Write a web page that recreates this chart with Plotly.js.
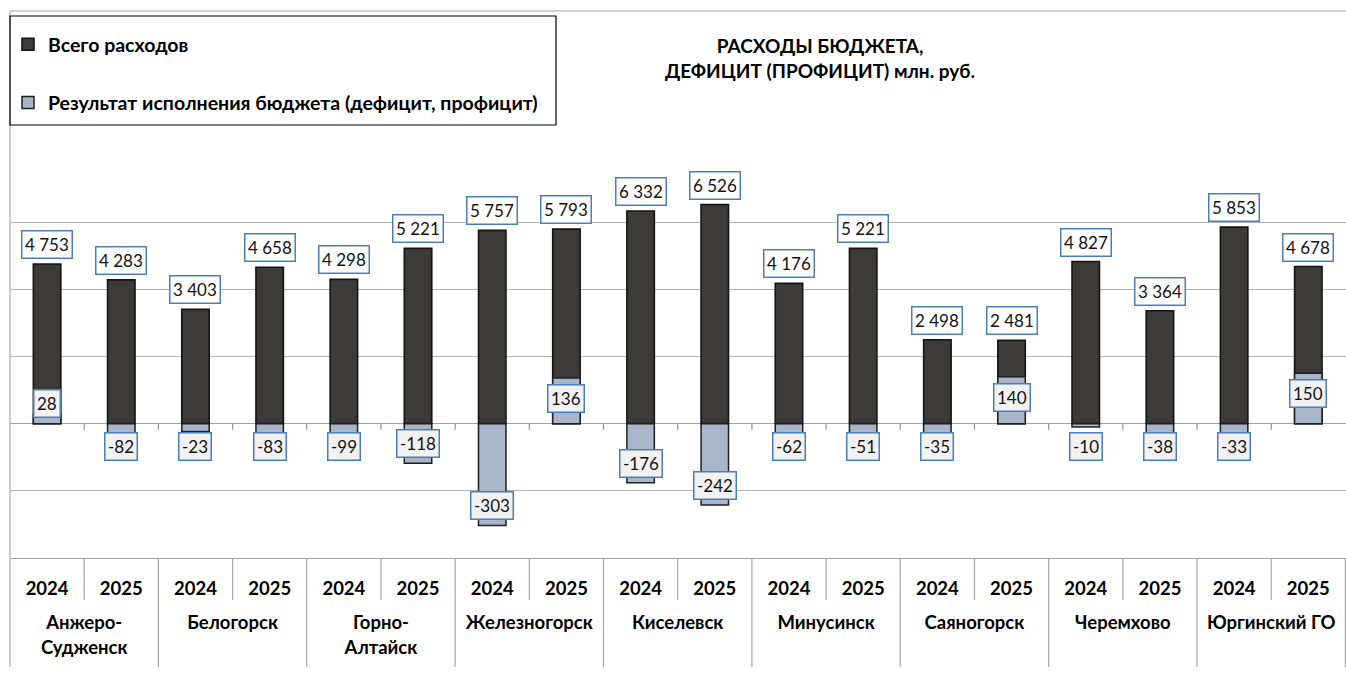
<!DOCTYPE html>
<html>
<head>
<meta charset="utf-8">
<script src="https://cdn.plot.ly/plotly-3.0.1.min.js"></script>
<style>html,body{margin:0;padding:0;background:#fff;}#chart{width:1346px;height:675px;}</style>
</head>
<body>
<div id="chart"></div>
<script>
const cities = ['Анжеро-<br>Судженск','Белогорск','Горно-<br>Алтайск','Железногорск','Киселевск','Минусинск','Саяногорск','Черемхово','Юргинский ГО'];
const years = ['2024','2025'];
const expenses = [4753, 4283, 3403, 4658, 4298, 5221, 5757, 5793, 6332, 6526, 4176, 5221, 2498, 2481, 4827, 3364, 5853, 4678];
const balance = [28, -82, -23, -83, -99, -118, -303, 136, -176, -242, -62, -51, -35, 140, -10, -38, -33, 150];
const seriesNames = ['Всего расходов', 'Результат исполнения бюджета (дефицит, профицит)'];
const titleText = 'РАСХОДЫ БЮДЖЕТА,<br>ДЕФИЦИТ (ПРОФИЦИТ) млн. руб.';

const FONT = 'Lato, "Open Sans", "Noto Sans", sans-serif';
// leading line break pushes the city row down below the year row
const cityLabel = c => '<br>' + c;
const xOuter = [], xInner = [];
cities.forEach(c => years.forEach(y => { xOuter.push(cityLabel(c)); xInner.push(y); }));
const X = [xOuter, xInner];

const traces = [
  {type:'bar', name:seriesNames[0], x:X, y:expenses, yaxis:'y', width:0.37,
   marker:{color:'#3d3a3a', line:{color:'#141414', width:1.6}},
   legendgroup:'a', hoverinfo:'y'},
  {type:'bar', name:seriesNames[1], x:X, y:balance, yaxis:'y2', width:0.37,
   marker:{color:'#a9b5c9', line:{color:'#1f1f1f', width:1.5}},
   legendgroup:'b', hoverinfo:'y'}
];

const fmt = v => { const s = Math.abs(v).toString().replace(/\B(?=(\d{3})+(?!\d))/g, ' '); return (v<0?'-':'') + s; };

const y1Range = [-4000, 8000], y2Range = [-400, 800];
const plotH = 403;
const pxPerY2 = plotH / (y2Range[1]-y2Range[0]);
const y1PerPx = (y1Range[1]-y1Range[0]) / plotH;

const annotations = [];
expenses.forEach((v,i) => {
  annotations.push({x:i, y:v, xref:'x', yref:'y', text:fmt(v), showarrow:false,
    yanchor:'bottom', yshift:5, font:{family:FONT, size:17, color:'#111'},
    bgcolor:'#ffffff', bordercolor:'#4a7ebb', borderwidth:1.5, borderpad:2.5});
});
balance.forEach((v,i) => {
  const h = Math.abs(v)*pxPerY2;
  let a = {x:i, xref:'x', yref:'y2', text:fmt(v), showarrow:false,
    font:{family:FONT, size:17, color:'#111'},
    bgcolor:'#f2f2f2', bordercolor:'#4a7ebb', borderwidth:1.5, borderpad:2.5};
  if (v < 0) {
    if (h >= 36) { a.y = v; a.yanchor = 'bottom'; a.yshift = 5; }
    else { a.y = 0; a.yanchor = 'top'; a.yshift = -8; }
  } else {
    if (h >= 36) { a.y = v; a.yanchor = 'top'; a.yshift = -6; }
    else { a.y = 0; a.yanchor = 'bottom'; a.yshift = 6; }
  }
  annotations.push(a);
});

const shapes = [];
const GRAY = '#a6a6a6';
// small ticks under the zero line at category boundaries
for (let k = 1; k < expenses.length; k++) {
  shapes.push({type:'line', xref:'x', yref:'y', x0:k-0.5, x1:k-0.5, y0:0, y1:-6*y1PerPx,
    line:{color:'#909090', width:1.2}, layer:'below'});
}
// table separators below axis
for (let k = 1; k <= expenses.length; k++) {
  const full = (k % 2 === 0);
  shapes.push({type:'line', xref:'x', yref:'paper', x0:k-0.5, x1:k-0.5, y0:0, y1: full ? (558-667)/plotH : (558-600)/plotH,
    line:{color:GRAY, width:1.2}});
}
const pyTop = (558-11)/plotH, pyBot = (558-667)/plotH;
shapes.push({type:'line', xref:'paper', yref:'paper', x0:0, x1:1, y0:pyTop, y1:pyTop, line:{color:GRAY, width:1.2}});
shapes.push({type:'line', xref:'paper', yref:'paper', x0:0, x1:0, y0:pyBot, y1:pyTop, line:{color:GRAY, width:1.2}});
shapes.push({type:'rect', xref:'paper', yref:'paper', x0:0, x1:546/1336, y0:(558-125)/plotH, y1:(558-16)/plotH, line:{color:'#000', width:1.2}});

const layout = {
  width:1346, height:675,
  margin:{l:10, r:0, t:155, b:117, pad:0},
  paper_bgcolor:'#fff', plot_bgcolor:'#fff',
  barmode:'overlay',
  showlegend:true,
  legend:{x:-2/1336, y:(558-25)/plotH, xanchor:'left', yanchor:'top', xref:'paper', yref:'paper',
    traceorder:'grouped', tracegroupgap:30, bgcolor:'rgba(0,0,0,0)',
    font:{family:FONT, size:19.5, color:'#000', weight:'bold'}},
  title:{text:titleText, x:820/1346, xanchor:'center', xref:'container', y:1-53/675, yanchor:'middle', yref:'container',
    font:{family:FONT, size:19, color:'#000', weight:'bold'}},
  xaxis:{type:'multicategory', showgrid:false, zeroline:false, showline:true, linecolor:GRAY, linewidth:1.2,
    ticks:'', ticklabelstandoff:14, showdividers:false,
    tickfont:{family:FONT, size:18.5, color:'#000', weight:'bold'}},
  yaxis:{range:y1Range, dtick:2000, showticklabels:false, ticks:'', showgrid:true, gridcolor:'#b3b3b3', gridwidth:1,
    zeroline:true, zerolinecolor:'#a0a0a0', zerolinewidth:1, showline:false, fixedrange:true},
  yaxis2:{range:y2Range, overlaying:'y', side:'right', showticklabels:false, ticks:'', showgrid:false, zeroline:false, showline:false},
  annotations:annotations,
  shapes:shapes
};
Plotly.newPlot('chart', traces, layout, {displayModeBar:false, staticPlot:true});
</script>
</body>
</html>
